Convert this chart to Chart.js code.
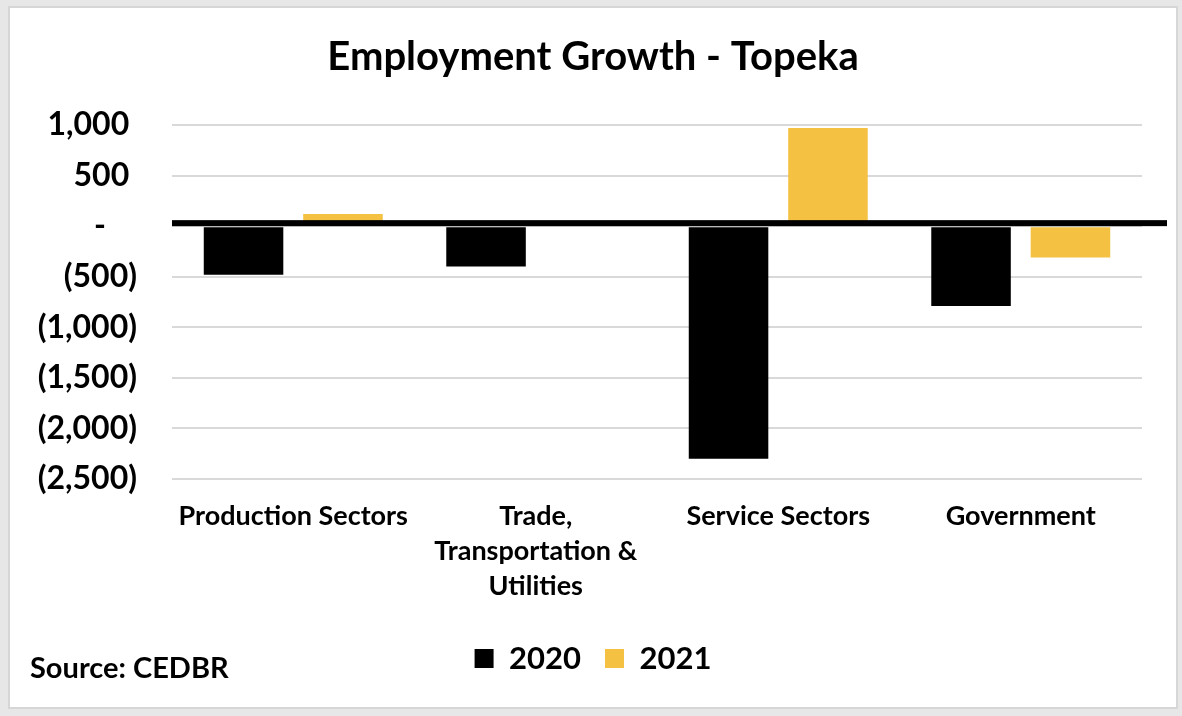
<!DOCTYPE html>
<html>
<head>
<meta charset="utf-8">
<script src="https://cdn.jsdelivr.net/npm/chart.js@4.4.0/dist/chart.umd.min.js"></script>
<style>
  html, body { margin: 0; padding: 0; background: #e7e7e7; }
  #frame {
    position: absolute; left: 8px; top: 6px;
    width: 1166px; height: 699px;
    border: 2px solid #d6d6d6; background: #ffffff;
  }
  #chart { display: block; }
</style>
</head>
<body>
<div id="frame"><canvas id="chart" width="1166" height="699"></canvas></div>
<script>
// data
var categories = ['Production Sectors', ['Trade,', 'Transportation &', 'Utilities'], 'Service Sectors', 'Government'];
var years = ['2020', '2021'];
var growth2020 = [-480, -400, -2300, -790];
var growth2021 = [120, 0, 970, -310];
var yMin = -2500;
var yMax = 1000;
var yStep = 500;

var FONT = 'Lato, "Open Sans", "Liberation Sans", sans-serif';

// accounting style: (500), "-" for zero, trailing room for the bracket
function fmtTick(v) {
    if (v == 0) return '-    ';
    var s = Math.abs(v).toLocaleString('en-US');
    return v < 0 ? '(' + s + ')' : s + ' ';
}

// thick zero line + source note
var extras = {
    id: 'extras',
    afterDatasetsDraw: function (chart) {
        var ctx = chart.ctx;
        var y0 = chart.scales.y.getPixelForValue(0);
        var area = chart.chartArea;
        ctx.save();
        ctx.fillStyle = '#000';
        ctx.fillRect(area.left, y0 - 6, area.right - area.left + 25, 6);
        ctx.restore();
    },
    afterDraw: function (chart) {
        var ctx = chart.ctx;
        ctx.save();
        ctx.fillStyle = '#000';
        ctx.font = 'bold 29px ' + FONT;
        ctx.textBaseline = 'middle';
        ctx.textAlign = 'left';
        ctx.fillText('Source: CEDBR', 20, 661);
        ctx.restore();
    }
};

var ctx = document.getElementById('chart');
var myChart = new Chart(ctx, {
    type: 'bar',
    data: {
        labels: categories,
        datasets: [
            {
                label: years[0],
                data: growth2020,
                backgroundColor: '#000000',
                borderWidth: 0
            },
            {
                label: years[1],
                data: growth2021,
                backgroundColor: '#F5C143',
                borderWidth: 0
            }
        ]
    },
    options: {
        responsive: false,
        animation: false,
        categoryPercentage: 0.82,
        barPercentage: 0.8,
        layout: { padding: { left: 0, right: 0, top: 0, bottom: 23 } },
        plugins: {
            title: {
                display: true,
                text: 'Employment Growth - Topeka',
                color: '#000',
                font: { family: FONT, size: 40, weight: 'bold', lineHeight: 1.2 },
                padding: { top: 25, bottom: 44 }
            },
            legend: {
                position: 'bottom',
                labels: {
                    color: '#000',
                    font: { family: FONT, size: 31, weight: 'bold' },
                    boxWidth: 19,
                    boxHeight: 19,
                    padding: 24
                }
            },
            tooltip: { enabled: false }
        },
        scales: {
            x: {
                afterFit: function (scale) { scale.height = 140; },
                grid: { display: false, drawTicks: false },
                border: { display: false },
                ticks: {
                    color: '#000',
                    padding: 20,
                    maxRotation: 0,
                    autoSkip: false,
                    font: { family: FONT, size: 27, weight: 'bold', lineHeight: '35px' }
                }
            },
            y: {
                min: yMin,
                max: yMax,
                afterFit: function (scale) { scale.width = 162; },
                grid: { color: '#d9d9d9', lineWidth: 2, drawTicks: false },
                border: { display: false },
                ticks: {
                    stepSize: yStep,
                    color: '#000',
                    padding: 35,
                    font: { family: FONT, size: 32, weight: 'bold' },
                    callback: function (v) { return fmtTick(v); }
                }
            },
            // empty right-hand spacer so the plot ends where the reference does
            yRight: {
                type: 'linear',
                position: 'right',
                afterFit: function (scale) { scale.width = 34; },
                grid: { display: false, drawTicks: false },
                border: { display: false },
                ticks: { display: false }
            }
        }
    },
    plugins: [extras]
});
</script>
</body>
</html>
